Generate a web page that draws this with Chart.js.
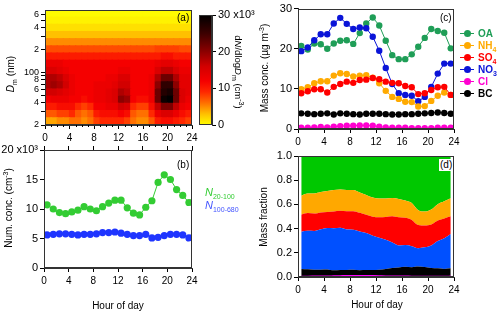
<!DOCTYPE html>
<html>
<head>
<meta charset="utf-8">
<script src="https://cdn.jsdelivr.net/npm/chart.js@4.4.1/dist/chart.umd.min.js"></script>
<style>
  html, body { margin: 0; padding: 0; background: #fff; }
  #fig { position: relative; width: 500px; height: 315px; overflow: hidden;
         font-family: "Liberation Sans", Arial, sans-serif; font-size: 10px; color: #000; }
  #fig canvas { position: absolute; left: 0; top: 0; }
  .lbl { position: absolute; white-space: nowrap; line-height: 1; }
  .rot { transform: translate(-50%, -50%) rotate(-90deg); }
  .rotR { transform: translate(-50%, -50%) rotate(90deg); }
  .ctr { transform: translate(-50%, -50%); }
  sub, sup { font-size: 7px; line-height: 0; }
  .leg { position: absolute; left: 460px; height: 10px; display: flex; align-items: center;
         font-weight: bold; font-size: 10px; transform: translateY(-50%); }
  .mk { position: relative; width: 14px; height: 1px; margin-right: 4px; }
  .mk::after { content: ""; position: absolute; left: 4px; top: -3px; width: 7px; height: 7px;
               border-radius: 50%; background: inherit; }
</style>
</head>
<body>
<div id="fig">
  <canvas id="heat" width="500" height="315"></canvas>
  <canvas id="cbar" width="500" height="315"></canvas>
  <canvas id="numc" width="500" height="315"></canvas>
  <canvas id="mass" width="500" height="315"></canvas>
  <canvas id="frac" width="500" height="315"></canvas>

  <div class="lbl rot" style="left:11px; top:74px;"><i>D</i><sub>m</sub> (nm)</div>
  <div class="lbl rotR" style="left:238px; top:72px; font-size:9.5px;">d<i>N</i>/dlog<i>D</i><sub>m</sub> (cm<sup>-3</sup>)</div>
  <div class="lbl" style="left:177px; top:13px;">(a)</div>

  <div class="lbl rot" style="left:9px; top:208px;">Num. conc. (cm<sup>-3</sup>)</div>
  <div class="lbl" style="left:177px; top:160px;">(b)</div>
  <div class="lbl" style="left:205px; top:187px; color:#33cc33; font-size:11px;"><i>N</i><sub>20-100</sub></div>
  <div class="lbl" style="left:205px; top:200px; color:#4455ff; font-size:11px;"><i>N</i><sub>100-680</sub></div>
  <div class="lbl ctr" style="left:118px; top:306px;">Hour of day</div>

  <div class="lbl rot" style="left:265px; top:68px;">Mass conc. (µg m<sup>-3</sup>)</div>
  <div class="lbl" style="left:440px; top:13px;">(c)</div>
  <div class="leg" style="top:33px; color:#1f9e57;"><span class="mk" style="background:#1f9e57"></span><span>OA</span></div>
  <div class="leg" style="top:45px; color:#ffaa00;"><span class="mk" style="background:#ffaa00"></span><span>NH<sub>4</sub></span></div>
  <div class="leg" style="top:57px; color:#ff0000;"><span class="mk" style="background:#ff0000"></span><span>SO<sub>4</sub></span></div>
  <div class="leg" style="top:69px; color:#0a14d8;"><span class="mk" style="background:#0a14d8"></span><span>NO<sub>3</sub></span></div>
  <div class="leg" style="top:81px; color:#ff00d0;"><span class="mk" style="background:#ff00d0"></span><span>Cl</span></div>
  <div class="leg" style="top:93px; color:#000;"><span class="mk" style="background:#000"></span><span>BC</span></div>

  <div class="lbl rot" style="left:264px; top:217px;">Mass fraction</div>
  <div class="lbl" style="left:439px; top:159px; background:#fff; padding:1px 1px;">(d)</div>
  <div class="lbl ctr" style="left:377px; top:305px;">Hour of day</div>
</div>

<script>
// hour-of-day bin centres
const hours = [0.5, 1.5, 2.5, 3.5, 4.5, 5.5, 6.5, 7.5, 8.5, 9.5, 10.5, 11.5,
               12.5, 13.5, 14.5, 15.5, 16.5, 17.5, 18.5, 19.5, 20.5, 21.5, 22.5, 23.5];

// (a) size bins (nm) and dN/dlogDm in 10^3 cm^-3, one row per bin, smallest first
const sizeEdges = [20, 24.9, 31.1, 38.8, 48.3, 60.2, 75.1, 93.6, 116.7, 145.5, 181.4, 226.1, 281.9, 351.4, 438.1, 546.1, 680];
const nsdRows = [
  [4, 4, 5, 5, 6, 6, 5, 6, 8, 9, 9, 9, 9, 8, 6, 5, 5, 7, 10, 11, 11, 10, 9, 8],
  [7, 7, 8, 8, 9, 7, 6, 7, 10, 11, 11, 11, 12, 11, 7, 6, 6, 9, 13, 15, 15, 13, 11, 10],
  [10, 10, 11, 11, 11, 9, 8, 9, 12, 12, 13, 13, 16, 15, 9, 8, 8, 11, 17, 21, 21, 17, 13, 12],
  [12, 13, 13, 13, 12, 12, 11, 12, 13, 13, 14, 15, 20, 19, 12, 11, 11, 13, 22, 29, 30, 22, 15, 13],
  [16, 16, 15, 14, 13, 12, 12, 12, 13, 13, 14, 15, 18, 17, 12, 12, 12, 13, 22, 27, 28, 22, 15, 14],
  [18, 19, 18, 16, 13, 12, 12, 12, 13, 13, 13, 14, 16, 16, 12, 12, 12, 13, 20, 26, 26, 20, 14, 14],
  [18, 18, 17, 15, 13, 12, 12, 12, 12, 12, 13, 13, 15, 15, 12, 12, 12, 13, 18, 22, 22, 18, 14, 14],
  [15, 15, 14, 13, 12, 12, 12, 12, 12, 12, 12, 12, 13, 13, 12, 12, 12, 12, 15, 17, 17, 15, 13, 13],
  [13, 13, 13, 12, 12, 12, 12, 12, 12, 12, 12, 12, 12, 12, 12, 12, 12, 12, 13, 14, 14, 13, 12, 12],
  [10, 10, 10, 10, 10, 10, 10, 10, 10, 10, 10, 10, 10, 10, 10, 10, 10, 10, 10, 11, 11, 10, 10, 10],
  [7.5, 7.5, 7.5, 7.5, 7.5, 7.5, 7.5, 7.5, 7.5, 7.5, 7.5, 7.5, 7.5, 7.5, 7.5, 7.5, 7.5, 7.5, 8, 8, 8, 8, 7.5, 7.5],
  [5, 5, 5, 5, 5, 5, 5, 5, 5, 5, 5, 5, 5, 5, 5, 5, 5, 5, 5, 5, 5, 5, 5, 5],
  [3, 3, 3, 3, 3, 3, 3, 3, 3, 3, 3, 3, 3, 3, 3, 3, 3, 3, 3, 3, 3, 3, 3, 3],
  [1.5, 1.5, 1.5, 1.5, 1.5, 1.5, 1.5, 1.5, 1.5, 1.5, 1.5, 1.5, 1.5, 1.5, 1.5, 1.5, 1.5, 1.5, 1.5, 1.5, 1.5, 1.5, 1.5, 1.5],
  [0.6, 0.6, 0.6, 0.6, 0.6, 0.6, 0.6, 0.6, 0.6, 0.6, 0.6, 0.6, 0.6, 0.6, 0.6, 0.6, 0.6, 0.6, 0.6, 0.6, 0.6, 0.6, 0.6, 0.6],
  [0.2, 0.2, 0.2, 0.2, 0.2, 0.2, 0.2, 0.2, 0.2, 0.2, 0.2, 0.2, 0.2, 0.2, 0.2, 0.2, 0.2, 0.2, 0.2, 0.2, 0.2, 0.2, 0.2, 0.2],
];
const sizeTicks = [20, 30, 40, 50, 60, 70, 80, 90, 100, 200, 300, 400, 500, 600];
const sizeTickLabels = ["2", "", "4", "", "6", "", "8", "", "100", "2", "", "4", "", "6"];

// (b) number concentrations, 10^3 cm^-3
const n20to100 = [10.7, 10.0, 9.4, 9.2, 9.5, 9.8, 10.4, 10.0, 9.7, 10.4, 11.0, 11.5,
                  11.5, 10.2, 9.3, 9.0, 10.3, 11.4, 14.5, 15.8, 15.0, 13.3, 12.3, 11.1];
const n100to680 = [5.6, 5.7, 5.8, 5.8, 5.7, 5.6, 5.7, 5.7, 5.8, 6.0, 6.0, 6.1,
                   5.9, 5.7, 5.5, 5.5, 5.7, 5.1, 5.2, 5.5, 5.7, 5.7, 5.6, 5.1];

// (c) mass concentrations, ug m^-3
const oa  = [20.7, 19.8, 21.3, 21.1, 20.0, 21.3, 22.0, 22.1, 21.2, 23.9, 26.3, 27.8,
             25.8, 22.0, 18.4, 17.4, 17.4, 18.6, 20.5, 22.7, 24.9, 24.4, 24.0, 20.1];
const nh4 = [9.9, 10.4, 11.4, 11.9, 11.9, 13.3, 13.9, 13.7, 13.1, 13.3, 13.4, 12.8,
             11.4, 9.5, 8.0, 7.5, 6.8, 6.7, 5.6, 5.7, 7.0, 8.3, 9.1, 8.5];
const so4 = [8.9, 9.4, 9.9, 9.9, 9.1, 10.5, 11.2, 11.8, 11.5, 12.2, 12.3, 12.7,
             12.4, 11.8, 11.5, 11.4, 10.7, 10.4, 8.7, 8.9, 9.7, 10.4, 10.5, 8.5];
const no3 = [19.4, 20.3, 22.1, 23.6, 23.6, 26.3, 27.7, 26.2, 24.9, 25.3, 25.1, 23.0,
             19.5, 15.2, 11.2, 8.9, 8.5, 8.3, 6.9, 8.0, 10.5, 13.8, 16.3, 16.3];
const cl  = [0.3, 0.3, 0.4, 0.5, 0.4, 0.6, 0.7, 0.8, 0.8, 0.9, 0.9, 0.8,
             0.6, 0.4, 0.3, 0.3, 0.3, 0.2, 0.2, 0.2, 0.2, 0.3, 0.3, 0.3];
const bc  = [3.9, 3.8, 3.7, 3.8, 3.9, 3.6, 3.9, 3.8, 3.7, 3.6, 3.8, 3.8,
             3.8, 3.7, 3.6, 3.6, 3.7, 3.7, 3.8, 3.9, 4.0, 4.1, 4.0, 3.8];

// colour map for the size distribution (value -> colour)
const cmap = [
  [0, [255, 255, 0]], [3, [255, 192, 0]], [6, [255, 112, 0]], [9, [255, 40, 0]],
  [12, [245, 0, 0]], [16, [210, 0, 0]], [20, [140, 0, 0]], [25, [60, 0, 0]], [30, [0, 0, 0]],
];

function colorFor(v) {
  if (v <= cmap[0][0]) return `rgb(${cmap[0][1].join(",")})`;
  for (let i = 1; i < cmap.length; i++) {
    if (v <= cmap[i][0]) {
      const [v0, c0] = cmap[i - 1];
      const [v1, c1] = cmap[i];
      const t = (v - v0) / (v1 - v0);
      return `rgb(${c0.map((c, k) => Math.round(c + (c1[k] - c) * t)).join(",")})`;
    }
  }
  return "rgb(0,0,0)";
}

Chart.defaults.font.family = '"Liberation Sans", Arial, sans-serif';
Chart.defaults.font.size = 10;
Chart.defaults.color = "#000";
Chart.defaults.animation = false;
Chart.defaults.responsive = false;
Chart.defaults.devicePixelRatio = 1;
Chart.defaults.plugins.legend.display = false;
Chart.defaults.plugins.tooltip.enabled = false;

const framePlugin = {
  id: "frame",
  afterDatasetsDraw(chart) {
    const a = chart.chartArea, ctx = chart.ctx;
    ctx.save();
    ctx.strokeStyle = "#333";
    ctx.lineWidth = 1;
    ctx.strokeRect(Math.round(a.left) + 0.5, Math.round(a.top) + 0.5,
                   Math.round(a.right - a.left) - 1, Math.round(a.bottom - a.top) - 1);
    ctx.restore();
  },
};

// short ticks between the labelled hours
const minorPlugin = {
  id: "minor",
  afterDraw(chart, args, opts) {
    if (!opts.values) return;
    const s = chart.scales[opts.axis], ctx = chart.ctx;
    ctx.save();
    ctx.strokeStyle = "#000";
    ctx.lineWidth = 1;
    ctx.beginPath();
    opts.values.forEach((v) => {
      const x = Math.round(s.getPixelForValue(v)) + 0.5;
      ctx.moveTo(x, s.top);
      ctx.lineTo(x, s.top + opts.len);
    });
    ctx.stroke();
    ctx.restore();
  },
};

const cbarPlugin = {
  id: "cbar",
  beforeDatasetsDraw(chart) {
    const a = chart.chartArea, y = chart.scales.y, ctx = chart.ctx;
    const g = ctx.createLinearGradient(0, y.getPixelForValue(0), 0, y.getPixelForValue(30));
    cmap.forEach(([v, c]) => g.addColorStop(v / 30, `rgb(${c.join(",")})`));
    ctx.save();
    ctx.fillStyle = g;
    ctx.fillRect(a.left, a.top, a.right - a.left, a.bottom - a.top);
    ctx.restore();
  },
};

function axis(extra) {
  return Object.assign({
    grid: { drawOnChartArea: false, drawTicks: true, tickLength: 4, color: "#000" },
    border: { display: true, color: "#333" },
  }, extra);
}

function hourAxis(height, showLabels, position) {
  return axis({
    type: "linear", position: position || "bottom", min: 0, max: 24,
    offset: false,
    grid: { drawOnChartArea: false, drawTicks: true, tickLength: 4, color: "#000", offset: false },
    ticks: { stepSize: 4, maxRotation: 0, autoSkip: false, padding: 3, display: showLabels },
    afterFit: (s) => { s.height = height; },
  });
}

const minorHours = [];
for (let h = 1; h < 24; h++) if (h % 4) minorHours.push(h);

// (a) size distribution heat map, drawn as floating bars on a log axis
const heatSets = nsdRows.map((row, b) => ({
  data: hours.map((h) => ({ x: h, y: [sizeEdges[b], sizeEdges[b + 1]] })),
  backgroundColor: row.map(colorFor),
  borderWidth: 0,
  inflateAmount: 0.6,
  grouped: false,
  barPercentage: 1,
  categoryPercentage: 1,
}));

// y-axis boxes are kept wide enough that their labels are not clipped
new Chart(document.getElementById("heat"), {
  type: "bar",
  data: { datasets: heatSets },
  options: {
    layout: { padding: { left: 0, top: 10, right: 308, bottom: 170 } },
    plugins: { minor: { axis: "x", values: minorHours, len: 2 } },
    scales: {
      x: hourAxis(20, true),
      y: axis({
        type: "logarithmic", min: 20, max: 680,
        afterBuildTicks: (s) => { s.ticks = sizeTicks.map((v) => ({ value: v })); },
        ticks: {
          padding: 2, autoSkip: false, font: { size: 9 },
          callback: (v, i) => sizeTickLabels[i],
        },
        afterFit: (s) => { s.width = 45; },
      }),
    },
  },
  plugins: [framePlugin, minorPlugin],
});

// colour bar
new Chart(document.getElementById("cbar"), {
  type: "scatter",
  data: { datasets: [] },
  options: {
    layout: { padding: { left: 199, top: 15, right: 228, bottom: 190 } },
    scales: {
      x: { display: false, min: 0, max: 1 },
      y: axis({
        position: "right", min: 0, max: 30,
        ticks: { stepSize: 10, padding: 2, autoSkip: false, font: { size: 11 },
                 callback: (v) => (v === 30 ? "30 x10³" : v) },
        afterFit: (s) => { s.width = 60; },
      }),
    },
  },
  plugins: [cbarPlugin, framePlugin],
});

// (b) number concentrations
new Chart(document.getElementById("numc"), {
  type: "line",
  data: {
    datasets: [
      { data: n20to100, color: "#33cc33" },
      { data: n100to680, color: "#1f35ff" },
    ].map((d) => ({
      data: d.data.map((v, i) => ({ x: hours[i], y: v })),
      borderColor: d.color, backgroundColor: d.color, pointBackgroundColor: d.color,
      borderWidth: 1, pointRadius: 3.6, pointBorderWidth: 0, tension: 0,
    })),
  },
  options: {
    layout: { padding: { left: 0, top: 145, right: 308, bottom: 25 } },
    scales: {
      x: hourAxis(22, true),
      x2: hourAxis(5, false, "top"),
      y: axis({
        min: 0, max: 20,
        ticks: { stepSize: 5, padding: 2, autoSkip: false, font: { size: 11 },
                 callback: (v) => (v === 20 ? "20 x10³" : String(v)) },
        afterFit: (s) => { s.width = 44; },
      }),
    },
  },
  plugins: [framePlugin],
});

// (c) mass concentrations
const massSeries = [
  { data: bc, color: "#000000" },
  { data: cl, color: "#ff00d0" },
  { data: so4, color: "#ff0000" },
  { data: nh4, color: "#ffaa00" },
  { data: no3, color: "#0a14d8" },
  { data: oa, color: "#1f9e57" },
];
new Chart(document.getElementById("mass"), {
  type: "line",
  data: {
    datasets: massSeries.map((d) => ({
      data: d.data.map((v, i) => ({ x: hours[i], y: v })),
      borderColor: d.color, backgroundColor: d.color, pointBackgroundColor: d.color,
      borderWidth: 1, pointRadius: 3.2, pointBorderWidth: 0, tension: 0,
    })),
  },
  options: {
    layout: { padding: { left: 273, top: 8, right: 46, bottom: 166 } },
    scales: {
      x: hourAxis(20, true),
      y: axis({
        min: 0, max: 30,
        ticks: { stepSize: 10, padding: 2, autoSkip: false, font: { size: 11 } },
        afterFit: (s) => { s.width = 25; },
      }),
    },
  },
  plugins: [framePlugin],
});

// (d) mass fractions, stacked from the (c) series
const totals = hours.map((h, i) => oa[i] + nh4[i] + so4[i] + no3[i] + cl[i] + bc[i]);
const fracSeries = [
  { data: cl, color: "#ff00ff" },
  { data: bc, color: "#000000" },
  { data: no3, color: "#0050ff" },
  { data: so4, color: "#ff0000" },
  { data: nh4, color: "#ffa800" },
  { data: oa, color: "#00c800" },
];
new Chart(document.getElementById("frac"), {
  type: "line",
  data: {
    datasets: fracSeries.map((d, k) => ({
      data: d.data.map((v, i) => ({ x: hours[i], y: v / totals[i] })),
      borderColor: d.color, backgroundColor: d.color,
      borderWidth: k === 0 ? 1.5 : 0, pointRadius: 0,
      fill: k === 0 ? "origin" : "-1",
      cubicInterpolationMode: "monotone",
    })),
  },
  options: {
    layout: { padding: { left: 270, top: 156, right: 46, bottom: 18 } },
    plugins: { filler: { propagate: false } },
    scales: {
      x: hourAxis(20, true),
      y: axis({
        stacked: true, min: 0, max: 1,
        ticks: { stepSize: 0.2, padding: 2, autoSkip: false, font: { size: 11 },
                 callback: (v) => v.toFixed(1) },
        afterFit: (s) => { s.width = 28; },
      }),
    },
  },
  plugins: [framePlugin],
});
</script>
</body>
</html>
